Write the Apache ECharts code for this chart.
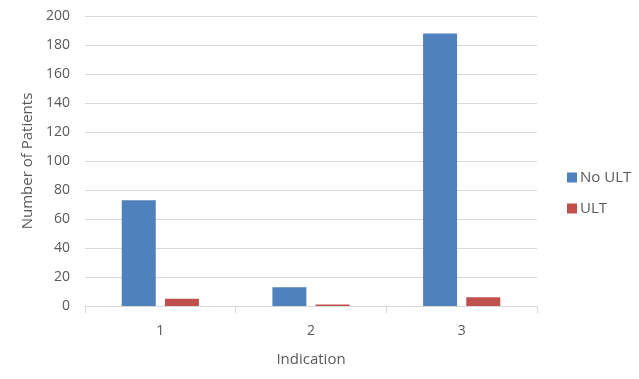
<!DOCTYPE html>
<html><head><meta charset="utf-8">
<script src="https://cdn.jsdelivr.net/npm/echarts@6/dist/echarts.min.js"></script>
<style>html,body{margin:0;padding:0;background:#fff}#c{width:639px;height:379px}</style>
</head><body><div id="c"></div>
<script>
const categories = ['1', '2', '3'];
const noUlt = [73, 13, 188];
const ult = [5, 1, 6];
const seriesNames = ['No ULT', 'ULT'];
const yTicks = { min: 0, max: 200, interval: 20 };

const font = 'Open Sans';
const textColor = '#595959';
const chart = echarts.init(document.getElementById('c'), null, { renderer: 'canvas' });
chart.setOption({
  animation: false,
  textStyle: { fontFamily: font },
  grid: { left: 85, right: 102, top: 16, bottom: 73 },
  legend: {
    orient: 'vertical', left: 562, top: 165,
    itemWidth: 10, itemHeight: 10, itemGap: 16,
    icon: 'rect',
    textStyle: { fontFamily: font, fontSize: 15, color: textColor, padding: [0, 0, 0, -2] },
    data: seriesNames
  },
  xAxis: {
    type: 'category', data: categories,
    name: 'Indication', nameLocation: 'middle', nameGap: 46,
    nameTextStyle: { fontFamily: font, fontSize: 15, color: textColor },
    axisLine: { lineStyle: { color: '#d9d9d9', width: 1 } },
    axisTick: { show: true, length: 7, lineStyle: { color: '#d9d9d9' } },
    axisLabel: { fontFamily: font, fontSize: 14, color: textColor, margin: 18 }
  },
  yAxis: {
    type: 'value', min: yTicks.min, max: yTicks.max, interval: yTicks.interval,
    name: 'Number of Patients', nameLocation: 'middle', nameGap: 48,
    nameTextStyle: { fontFamily: font, fontSize: 15, color: textColor },
    axisLine: { show: false }, axisTick: { show: false },
    axisLabel: { fontFamily: font, fontSize: 14, color: textColor, margin: 15 },
    splitLine: { lineStyle: { color: '#d9d9d9', width: 1 } }
  },
  series: [
    { name: seriesNames[0], type: 'bar', data: noUlt, barWidth: 34, barGap: '27%', itemStyle: { color: '#4f81bd' } },
    { name: seriesNames[1], type: 'bar', data: ult, barWidth: 34, itemStyle: { color: '#c0504d' } }
  ]
});
</script></body></html>
